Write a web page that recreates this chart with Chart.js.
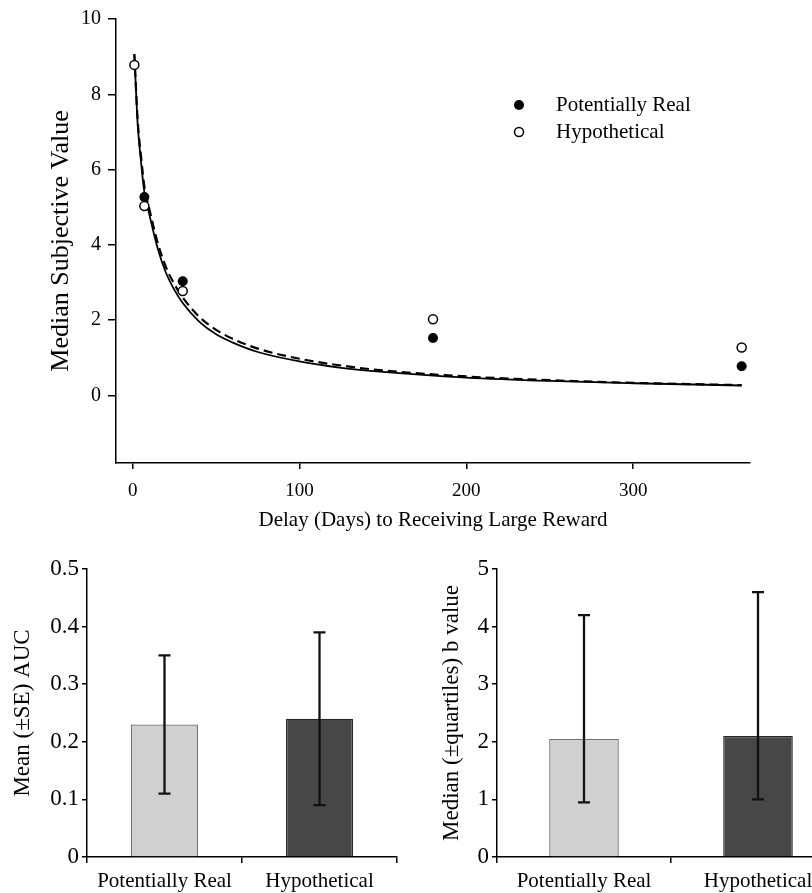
<!DOCTYPE html>
<html><head><meta charset="utf-8">
<script src="https://cdn.jsdelivr.net/npm/chart.js@4/dist/chart.umd.min.js"></script>
<style>
html,body{margin:0;padding:0;background:#fff;overflow:hidden;width:812px;height:893px;position:relative;}
canvas{position:absolute;}
#top{left:0;top:0;}
#bl{left:0;top:550px;}
#br{left:410px;top:550px;}
</style></head><body>
<canvas id="top" width="812" height="545"></canvas>
<canvas id="bl" width="410" height="343"></canvas>
<canvas id="br" width="440" height="343"></canvas>
<script>
// ---- data: top panel ----
const delays = [1, 7, 30, 180, 365];
const realMedians = [null, 5.27, 3.03, 1.52, 0.77];
const hypoMedians = [8.78, 5.03, 2.77, 2.02, 1.27];
const curveDays = [1, 3, 5, 7, 10, 15, 20, 25, 30, 40, 50, 60, 75, 100, 125, 150, 200, 250, 300, 365];
const realFit = [9.07, 7.2, 6.2, 5.4, 4.8, 3.9, 3.25, 2.8, 2.45, 1.95, 1.62, 1.40, 1.15, 0.90, 0.73, 0.62, 0.47, 0.38, 0.32, 0.26];
const hypoFit = [9.07, 7.3, 6.35, 5.55, 4.95, 4.05, 3.4, 2.95, 2.6, 2.08, 1.74, 1.50, 1.24, 0.97, 0.79, 0.66, 0.50, 0.40, 0.33, 0.27];
const topXTicks = [0, 100, 200, 300];
const topYTicks = [0, 2, 4, 6, 8, 10];
const seriesLabels = ['Potentially Real', 'Hypothetical'];
// ---- data: bottom panels ----
const groups = ['Potentially Real', 'Hypothetical'];
const aucMean = [0.23, 0.24];
const aucLow = [0.11, 0.09];
const aucHigh = [0.35, 0.39];
const aucTicks = [0, 0.1, 0.2, 0.3, 0.4, 0.5];
const bMedian = [2.05, 2.10];
const bLow = [0.95, 1.0];
const bHigh = [4.2, 4.6];
const bTicks = [0, 1, 2, 3, 4, 5];

const SERIF = "'Liberation Serif', 'DejaVu Serif', serif";
Chart.defaults.font.family = SERIF;
Chart.defaults.color = '#000';

const pts = (xs, ys) => xs.map((x, i) => ({x: x, y: ys[i]}));

const legendPlugin = {
  id: 'manualLegend',
  afterDraw(chart, args, opts) {
    const ctx = chart.ctx;
    ctx.save();
    ctx.font = '21px ' + SERIF;
    ctx.textBaseline = 'middle';
    ctx.fillStyle = '#000';
    opts.items.forEach((it, i) => {
      const y = opts.y + i * opts.gap;
      ctx.beginPath();
      ctx.arc(opts.x, y, it.r, 0, Math.PI * 2);
      ctx.fillStyle = it.fill;
      ctx.fill();
      if (it.stroke) { ctx.lineWidth = 1.5; ctx.strokeStyle = '#000'; ctx.stroke(); }
      ctx.fillStyle = '#000';
      ctx.fillText(it.text, opts.textX, y);
    });
    ctx.restore();
  }
};

new Chart(document.getElementById('top'), {
  type: 'scatter',
  data: {
    datasets: [
      {label: seriesLabels[0], data: pts(delays, realMedians), order: 0,
       pointRadius: 5, pointBackgroundColor: '#000', pointBorderColor: '#000', pointBorderWidth: 0, showLine: false},
      {label: seriesLabels[1], data: pts(delays, hypoMedians), order: 1,
       pointRadius: 4.5, pointBackgroundColor: '#fff', pointBorderColor: '#000', pointBorderWidth: 1.5, showLine: false},
      {label: 'fit real', data: pts(curveDays, realFit), order: 2, showLine: true, pointRadius: 0,
       borderColor: '#000', borderWidth: 1.8, tension: 0.4, cubicInterpolationMode: 'monotone'},
      {label: 'fit hypo', data: pts(curveDays, hypoFit), order: 3, showLine: true, pointRadius: 0,
       borderColor: '#000', borderWidth: 2.2, borderDash: [9, 5], tension: 0.4, cubicInterpolationMode: 'monotone'}
    ]
  },
  options: {
    responsive: false, animation: false,
    layout: {padding: {left: 0, top: 18, right: 62, bottom: 0}},
    plugins: {
      legend: {display: false}, tooltip: {enabled: false},
      manualLegend: {x: 519, y: 105, gap: 27, textX: 556, items: [
        {text: seriesLabels[0], r: 5, fill: '#000', stroke: false},
        {text: seriesLabels[1], r: 4.5, fill: '#fff', stroke: true}
      ]}
    },
    scales: {
      x: {
        type: 'linear', min: -10, max: 370,
        afterBuildTicks: s => { s.ticks = topXTicks.map(v => ({value: v})); },
        afterFit: s => { s.height = 82; },
        grid: {drawOnChartArea: false, drawTicks: true, tickLength: 6, color: '#000', lineWidth: 1.5},
        border: {display: true, color: '#000', width: 1.5},
        ticks: {font: {size: 19}, color: '#000', padding: 11, maxRotation: 0},
        title: {display: true, text: 'Delay (Days) to Receiving Large Reward', font: {size: 21, lineHeight: 1.2}, color: '#000', padding: {top: 0, bottom: 12}}
      },
      y: {
        type: 'linear', min: -1.8, max: 10,
        afterBuildTicks: s => { s.ticks = topYTicks.map(v => ({value: v})); },
        afterFit: s => { s.width = 116; },
        grid: {drawOnChartArea: false, drawTicks: true, tickLength: 8, color: '#000', lineWidth: 1.5},
        border: {display: true, color: '#000', width: 1.5},
        ticks: {font: {size: 20}, color: '#000', padding: 7},
        title: {display: true, text: 'Median Subjective Value', font: {size: 26, lineHeight: 1.2}, color: '#000', padding: {top: 46, bottom: 0}}
      }
    }
  },
  plugins: [legendPlugin]
});

const errPlugin = {
  id: 'errBars',
  afterDatasetsDraw(chart, args, opts) {
    const ctx = chart.ctx;
    const meta = chart.getDatasetMeta(0);
    const ys = chart.scales.y;
    ctx.save();
    ctx.strokeStyle = '#111';
    ctx.lineWidth = 2.3;
    meta.data.forEach((bar, i) => {
      const x = bar.x;
      const yl = ys.getPixelForValue(opts.low[i]);
      const yh = ys.getPixelForValue(opts.high[i]);
      ctx.beginPath();
      ctx.moveTo(x, yl); ctx.lineTo(x, yh);
      ctx.moveTo(x - 6, yl); ctx.lineTo(x + 6, yl);
      ctx.moveTo(x - 6, yh); ctx.lineTo(x + 6, yh);
      ctx.stroke();
    });
    ctx.restore();
  }
};

function barChart(id, values, low, high, ticks, maxV, title, titlePad, padRight, barPct) {
  return new Chart(document.getElementById(id), {
    type: 'bar',
    data: {
      labels: groups,
      datasets: [{
        data: values,
        backgroundColor: ['#d0d0d0', '#474747'],
        borderColor: ['#6e6e6e', '#262626'],
        borderWidth: 1.3,
        barPercentage: barPct, categoryPercentage: 1
      }]
    },
    options: {
      responsive: false, animation: false,
      layout: {padding: {left: 0, top: 19, right: padRight, bottom: 0}},
      plugins: {legend: {display: false}, tooltip: {enabled: false}, errBars: {low: low, high: high}},
      scales: {
        x: {
          type: 'category', offset: true,
          afterFit: s => { s.height = 36; },
          grid: {offset: true, drawOnChartArea: false, drawTicks: true, tickLength: 6, color: '#000', lineWidth: 1.5},
          border: {display: true, color: '#000', width: 1.5},
          ticks: {font: {size: 21}, color: '#000', padding: 6, maxRotation: 0, autoSkip: false}
        },
        y: {
          type: 'linear', min: 0, max: maxV,
          afterBuildTicks: s => { s.ticks = ticks.map(v => ({value: v})); },
          afterFit: s => { s.width = 87; },
          grid: {drawOnChartArea: false, drawTicks: true, tickLength: 5, color: '#000', lineWidth: 1.5},
          border: {display: true, color: '#000', width: 1.5},
          ticks: {font: {size: 23}, color: '#000', padding: 3},
          title: {display: true, text: title, font: {size: 23, lineHeight: 1.2}, color: '#000', padding: {top: titlePad, bottom: 0}}
        }
      }
    },
    plugins: [errPlugin]
  });
}

barChart('bl', aucMean, aucLow, aucHigh, aucTicks, 0.5, 'Mean (±SE) AUC', 9, 13, 0.432);
barChart('br', bMedian, bLow, bHigh, bTicks, 5, 'Median (±quartiles) b value', 28, 5, 0.40);
</script>
</body></html>
